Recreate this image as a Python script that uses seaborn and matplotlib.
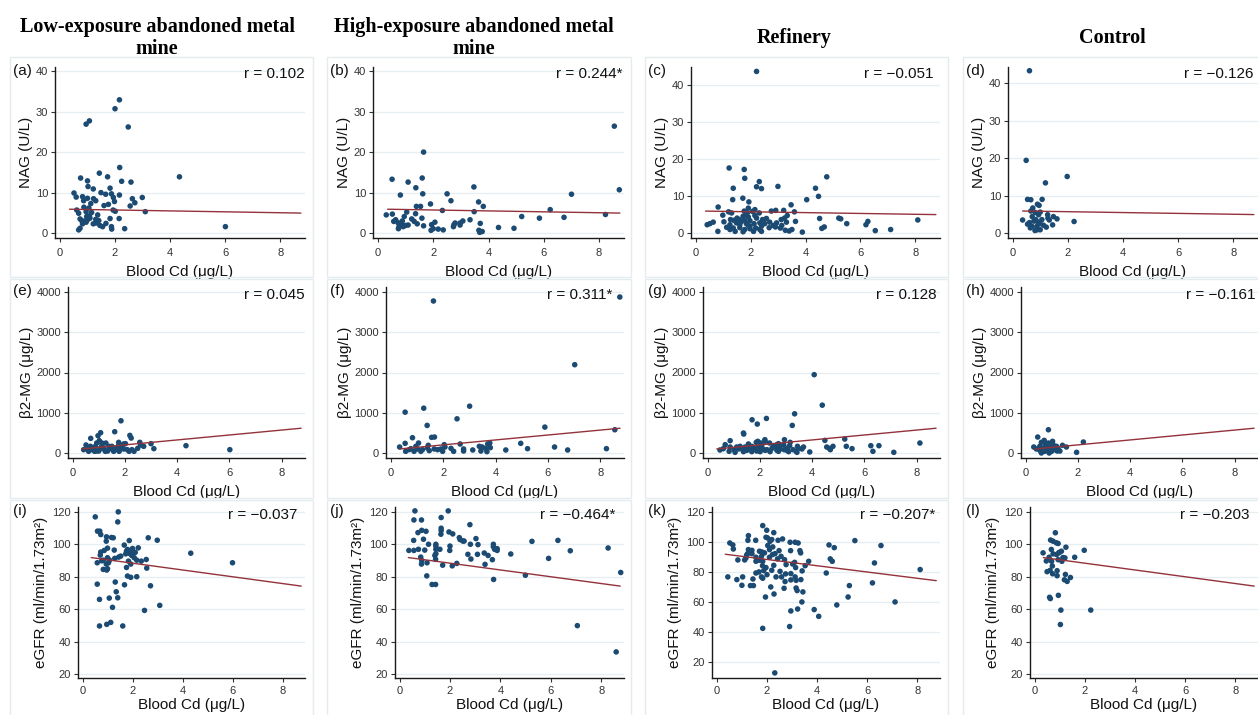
import matplotlib
matplotlib.use("Agg")
import matplotlib.pyplot as plt
from matplotlib.patches import Rectangle
import pandas as pd
import seaborn as sns

# ---- data: (blood Cd, outcome) pairs per panel ----
low_nag = [(1.07, 27.7), (0.95, 26.9), (2.0, 30.7), (2.16, 32.9), (2.48, 26.2), (2.17, 16.2), (1.43, 14.8),
           (0.75, 13.6), (1.73, 13.9), (4.34, 13.9), (1.0, 12.9), (2.24, 12.8), (2.58, 12.6), (1.02, 11.5),
           (1.82, 11.1), (1.21, 10.9), (0.51, 9.9), (1.49, 10.0), (1.66, 9.6), (1.87, 9.7), (2.16, 9.4),
           (0.82, 9.0), (0.59, 8.9), (1.0, 8.6), (1.22, 8.5), (1.94, 8.8), (2.63, 8.5), (2.99, 8.8), (0.86, 8.0),
           (1.3, 8.0), (1.98, 7.8), (2.72, 7.5), (1.76, 7.1), (1.6, 6.8), (2.55, 6.7), (1.12, 7.3), (0.87, 6.4),
           (1.05, 6.2), (0.61, 5.7), (1.93, 5.7), (3.1, 5.3), (0.95, 5.3), (0.68, 4.9), (1.15, 5.1), (2.01, 5.4),
           (0.97, 4.1), (0.73, 3.5), (1.09, 3.7), (1.3, 3.4), (1.82, 3.6), (2.15, 3.6), (0.91, 3.0), (1.0, 3.3),
           (1.41, 3.1), (0.82, 2.3), (1.21, 2.3), (1.45, 1.9), (1.67, 2.4), (1.87, 1.6), (1.88, 1.0), (2.35, 1.1),
           (0.73, 1.2), (0.68, 0.8), (1.31, 2.5), (6.01, 1.6), (0.95, 2.7), (1.07, 4.3), (1.55, 1.6), (1.37, 4.5),
           (0.79, 3.1)]
high_nag = [(8.55, 26.4), (8.73, 10.7), (7.0, 9.6), (6.23, 5.8), (6.73, 3.9), (5.84, 3.7), (5.2, 4.1), (8.23, 4.6),
            (4.92, 1.2), (4.36, 1.4), (1.65, 20.0), (1.6, 13.6), (0.51, 13.3), (1.09, 12.6), (1.37, 11.2),
            (3.47, 11.4), (1.62, 9.7), (2.5, 9.7), (0.81, 9.4), (2.64, 8.0), (3.64, 7.7), (1.9, 7.2), (3.81, 6.6),
            (1.39, 6.6), (1.54, 6.6), (1.04, 5.2), (3.48, 5.3), (2.33, 5.6), (0.3, 4.5), (0.52, 4.7), (1.36, 4.8),
            (0.95, 4.1), (1.59, 3.7), (1.22, 3.5), (3.33, 3.3), (0.57, 2.9), (0.72, 2.6), (1.31, 2.9), (2.06, 2.7),
            (3.07, 3.0), (0.85, 2.3), (1.0, 1.9), (2.79, 2.5), (2.97, 2.5), (3.7, 2.4), (1.42, 2.3), (1.65, 1.8),
            (0.76, 1.6), (1.94, 2.1), (2.73, 1.6), (0.74, 1.1), (0.91, 1.6), (1.09, 2.0), (2.0, 1.1), (2.18, 1.0),
            (2.36, 0.8), (1.92, 0.7), (3.65, 0.7), (3.77, 0.4), (3.68, 0.2), (0.88, 3.0), (0.64, 3.3), (2.97, 2.0),
            (2.75, 2.1)]
ref_nag = [(2.21, 43.8), (1.21, 17.6), (1.76, 17.2), (1.78, 14.8), (4.77, 15.2), (1.36, 12.1), (2.31, 13.9),
           (2.21, 12.5), (2.39, 12.0), (2.99, 12.6), (4.36, 12.1), (4.47, 9.9), (1.34, 9.0), (1.71, 9.4), (4.04, 9.0),
           (1.93, 8.4), (0.81, 7.0), (3.47, 7.6), (1.91, 6.7), (2.75, 5.9), (2.91, 6.1), (3.2, 6.1), (1.19, 5.7),
           (1.76, 5.9), (2.06, 5.8), (3.59, 5.7), (1.3, 5.4), (2.31, 5.4), (1.82, 4.9), (3.33, 4.7), (0.98, 4.8),
           (2.57, 3.9), (4.51, 3.9), (5.21, 4.0), (5.28, 3.8), (2.43, 3.6), (1.38, 3.4), (1.58, 3.6), (1.66, 3.1),
           (1.97, 3.3), (3.11, 3.6), (3.23, 4.0), (3.63, 3.1), (6.27, 3.1), (8.09, 3.5), (0.63, 2.9), (0.51, 2.5),
           (0.41, 2.2), (1.02, 3.0), (1.24, 2.2), (1.48, 2.7), (1.84, 2.5), (2.12, 2.5), (2.33, 2.7), (2.51, 2.5),
           (2.69, 2.9), (2.94, 2.7), (3.3, 2.9), (5.5, 2.5), (6.2, 2.2), (1.12, 1.5), (1.36, 1.3), (1.6, 1.4),
           (1.78, 0.9), (1.97, 1.8), (2.18, 1.3), (2.33, 0.9), (2.67, 1.4), (2.9, 1.6), (3.08, 1.3), (3.26, 0.7),
           (3.4, 0.5), (3.5, 0.9), (4.59, 1.2), (4.68, 1.6), (0.8, 0.4), (1.43, 0.4), (1.72, 0.3), (2.1, 0.4),
           (3.88, 0.2), (6.54, 0.6), (7.1, 0.9), (1.5, 4.0), (1.72, 4.5), (1.91, 4.3), (2.15, 4.7), (1.26, 3.6),
           (2.21, 4.0), (1.78, 3.3), (1.6, 2.2), (1.91, 2.0), (2.39, 1.8), (2.82, 2.0), (3.13, 2.0), (1.24, 0.9),
           (1.97, 1.1), (2.39, 0.4), (1.87, 5.4), (2.15, 6.3)]
ctl_nag = [(0.6, 43.3), (0.48, 19.4), (1.18, 13.4), (1.97, 15.1), (0.53, 9.0), (0.65, 8.9), (1.06, 9.0), (0.89, 7.7),
           (0.95, 7.4), (0.65, 5.9), (0.81, 5.5), (0.99, 5.6), (1.26, 4.9), (0.35, 3.5), (1.6, 3.8), (2.22, 3.1),
           (1.27, 4.0), (1.32, 3.5), (0.7, 4.4), (0.6, 2.8), (0.76, 3.2), (0.91, 2.9), (0.99, 2.5), (1.11, 2.1),
           (1.21, 1.6), (1.44, 2.2), (0.8, 0.7), (0.89, 0.9), (0.69, 1.8), (0.83, 3.6), (1.05, 3.6), (0.93, 4.9),
           (0.72, 6.7), (0.87, 1.8), (0.63, 1.4), (0.99, 0.9), (0.53, 2.4), (1.47, 4.4)]

low_b2m = [(1.85, 800), (1.61, 528), (1.07, 503), (0.97, 429), (0.69, 363), (2.19, 437), (2.24, 371), (1.02, 305),
           (0.92, 247), (1.27, 247), (0.51, 198), (2.02, 231), (2.57, 264), (2.6, 198), (3.0, 231), (2.72, 165),
           (4.34, 181), (0.87, 165), (1.39, 165), (1.74, 165), (1.88, 181), (3.11, 107), (6.02, 82), (0.58, 99),
           (0.74, 82), (1.06, 115), (1.19, 99), (1.52, 99), (1.67, 115), (1.95, 99), (2.49, 115), (0.61, 41),
           (0.84, 41), (1.0, 49), (1.34, 49), (1.57, 41), (1.78, 41), (2.16, 41), (2.35, 41), (0.68, 165),
           (1.12, 181), (1.5, 165), (1.83, 115), (0.81, 115), (0.93, 49), (1.25, 41), (1.63, 82), (2.09, 82),
           (2.27, 82), (0.42, 82), (1.39, 99), (1.12, 247), (1.76, 264), (1.95, 223)]
high_b2m = [(1.63, 3777), (8.74, 3876), (7.02, 2194), (3.01, 1163), (1.26, 1113), (0.55, 1014), (2.53, 849),
            (1.39, 685), (5.88, 643), (8.55, 577), (1.67, 396), (1.56, 388), (0.83, 379), (2.65, 223), (0.55, 239),
            (1.06, 247), (2.04, 206), (3.78, 247), (4.96, 239), (0.34, 148), (1.43, 190), (3.38, 165), (3.49, 148),
            (3.8, 132), (6.25, 148), (5.22, 107), (8.23, 107), (0.77, 107), (1.02, 99), (1.21, 82), (1.66, 99),
            (1.91, 99), (2.3, 115), (2.78, 99), (3.13, 74), (3.62, 115), (4.39, 74), (6.75, 74), (0.57, 41),
            (0.89, 41), (1.15, 41), (1.47, 58), (1.98, 41), (2.4, 41), (2.78, 49), (3.44, 49), (3.67, 33),
            (1.79, 82), (0.7, 82), (1.4, 124), (2.07, 148), (3.7, 223), (0.96, 165)]
ref_b2m = [(4.08, 1946), (4.39, 1188), (3.33, 973), (1.7, 825), (2.25, 858), (1.9, 718), (3.24, 685), (1.37, 495),
           (1.38, 470), (0.86, 305), (2.19, 330), (2.94, 330), (4.49, 313), (5.25, 346), (8.13, 247), (0.67, 206),
           (1.56, 223), (1.86, 264), (2.04, 247), (2.37, 247), (2.71, 231), (3.16, 264), (5.31, 165), (6.25, 181),
           (6.56, 181), (4.8, 165), (4.56, 148), (4.7, 82), (4.66, 115), (5.53, 107), (6.33, 41), (7.13, 16),
           (3.91, 25), (0.47, 74), (0.6, 107), (0.82, 41), (1.01, 82), (1.18, 99), (1.24, 165), (1.43, 148),
           (1.63, 82), (1.78, 115), (1.95, 148), (2.11, 99), (2.27, 82), (2.46, 115), (2.59, 148), (2.78, 99),
           (2.93, 82), (3.06, 124), (3.27, 82), (3.39, 41), (3.48, 115), (3.61, 99), (3.67, 148), (1.05, 16),
           (1.37, 33), (1.69, 33), (2.01, 33), (2.39, 33), (2.71, 41), (3.1, 33), (3.42, 16), (1.5, 66),
           (1.88, 49), (2.2, 66), (2.65, 66), (3.03, 66), (1.69, 165), (2.07, 181), (2.52, 181), (2.91, 206),
           (3.14, 181), (1.31, 99), (1.56, 115), (0.86, 148), (1.11, 148), (1.92, 289), (2.2, 289), (2.65, 206),
           (2.75, 165), (3.44, 165)]
ctl_b2m = [(0.87, 577), (0.46, 396), (0.71, 313), (2.21, 272), (0.87, 247), (0.6, 264), (0.31, 148), (1.41, 190),
           (1.56, 148), (1.05, 206), (1.18, 165), (0.95, 140), (0.54, 165), (0.67, 124), (0.79, 165), (1.12, 82),
           (1.24, 107), (1.31, 49), (0.99, 41), (0.73, 41), (0.6, 0), (1.95, 16), (0.41, 99), (0.86, 82),
           (1.08, 124), (0.54, 66), (1.21, 49), (0.77, 206), (1.03, 289), (0.64, 82), (0.9, 0)]

low_egfr = [(1.43, 120.0), (0.51, 116.9), (1.41, 113.8), (0.6, 108.1), (0.69, 108.1), (0.73, 106.0), (0.96, 104.6),
            (1.16, 104.2), (1.23, 104.0), (2.63, 104.0), (2.99, 102.5), (1.87, 102.3), (0.95, 101.9), (1.67, 99.5),
            (2.23, 97.8), (1.0, 97.6), (0.87, 96.2), (1.27, 96.4), (1.76, 95.8), (1.96, 96.2), (0.73, 95.2),
            (2.11, 95.0), (4.33, 94.5), (1.89, 94.3), (0.71, 93.3), (1.97, 93.1), (1.45, 92.1), (1.0, 91.7),
            (1.29, 91.3), (2.07, 91.7), (2.55, 90.6), (0.83, 90.2), (0.77, 89.8), (1.08, 90.2), (1.84, 89.6),
            (2.17, 90.2), (2.35, 89.6), (0.59, 88.6), (6.0, 88.6), (0.95, 87.8), (1.04, 88.6), (1.93, 87.8),
            (1.76, 85.7), (2.57, 85.3), (0.83, 84.5), (0.97, 84.1), (1.0, 84.9), (1.8, 80.4), (1.93, 79.6),
            (2.17, 80.0), (1.31, 76.7), (0.59, 75.4), (1.68, 75.0), (2.72, 74.4), (1.35, 70.7), (1.07, 66.8),
            (0.68, 66.0), (1.41, 67.0), (1.2, 61.1), (3.09, 62.3), (2.48, 59.2), (0.68, 49.6), (0.97, 50.6),
            (1.13, 51.8), (1.61, 49.6), (1.8, 96.8), (2.0, 97.4), (1.53, 92.7), (1.73, 94.1)]
high_egfr = [(0.61, 120.6), (1.93, 120.6), (0.57, 115.0), (0.87, 115.0), (1.65, 116.5), (2.79, 112.1), (1.65, 109.9),
             (1.65, 108.4), (0.88, 108.6), (1.05, 108.0), (0.73, 107.2), (1.96, 107.6), (2.11, 106.4), (1.64, 106.2),
             (2.37, 104.1), (2.4, 102.9), (2.51, 102.0), (2.56, 102.0), (3.03, 103.5), (0.56, 102.4), (0.95, 103.1),
             (5.25, 101.8), (6.28, 102.4), (1.15, 100.0), (1.44, 100.0), (1.44, 98.9), (2.81, 100.0), (3.11, 99.8),
             (3.72, 100.0), (3.72, 98.5), (2.0, 98.9), (0.75, 96.9), (0.37, 96.2), (0.57, 96.2), (1.0, 96.4),
             (1.6, 96.9), (1.99, 96.2), (3.77, 96.9), (3.87, 96.2), (6.77, 96.0), (8.27, 97.7), (2.71, 93.8),
             (3.09, 93.8), (3.51, 93.1), (4.41, 94.0), (1.44, 94.2), (1.4, 93.1), (0.84, 92.1), (3.36, 94.6),
             (1.43, 90.7), (2.83, 90.9), (3.68, 90.5), (5.91, 91.3), (0.88, 90.0), (1.09, 88.6), (2.27, 88.2),
             (0.87, 87.8), (3.39, 87.6), (1.71, 87.1), (2.09, 86.7), (1.08, 80.5), (4.99, 80.9), (3.73, 78.3),
             (8.77, 82.6), (1.29, 75.2), (1.43, 75.2), (7.05, 49.8), (8.59, 33.6), (3.87, 97.3), (1.44, 96.9)]
ref_egfr = [(1.84, 110.9), (2.0, 107.8), (2.28, 106.2), (1.27, 104.2), (1.25, 101.1), (1.56, 101.1), (1.97, 103.1),
            (2.03, 102.7), (2.2, 101.6), (2.45, 101.1), (2.63, 102.0), (2.13, 100.4), (2.93, 99.8), (3.13, 99.8),
            (3.25, 99.3), (5.51, 100.9), (0.53, 99.3), (0.65, 98.0), (0.67, 95.3), (4.48, 98.0), (4.69, 96.2),
            (6.55, 97.6), (2.24, 96.7), (2.04, 97.6), (2.49, 94.2), (1.27, 94.9), (1.32, 93.8), (1.41, 94.4),
            (1.71, 93.8), (1.81, 93.3), (1.91, 92.7), (1.2, 91.3), (1.41, 92.2), (2.23, 91.6), (2.33, 92.2),
            (2.95, 94.2), (3.32, 94.2), (3.35, 92.7), (1.17, 89.3), (1.57, 89.8), (1.79, 90.4), (2.11, 89.8),
            (2.43, 88.7), (2.71, 88.2), (0.85, 88.0), (1.12, 88.0), (1.71, 87.8), (1.84, 87.1), (3.11, 86.4),
            (3.03, 85.3), (3.67, 87.1), (4.61, 87.1), (4.53, 88.7), (6.29, 86.0), (1.83, 84.2), (1.97, 82.9),
            (2.28, 84.4), (3.53, 84.2), (3.15, 82.9), (1.88, 80.9), (2.2, 81.1), (3.41, 80.7), (1.57, 79.3),
            (1.69, 80.0), (2.75, 78.7), (2.96, 78.9), (4.37, 79.3), (8.11, 81.6), (2.37, 76.7), (0.45, 76.7),
            (1.04, 76.7), (1.79, 76.7), (2.59, 76.7), (3.13, 76.7), (1.45, 75.3), (0.81, 74.9), (1.84, 75.8),
            (2.96, 74.7), (3.36, 74.9), (2.73, 73.6), (3.17, 74.4), (6.21, 72.7), (1.01, 71.1), (1.35, 70.9),
            (1.47, 70.9), (5.29, 70.9), (3.17, 69.3), (2.16, 70.0), (2.69, 69.1), (3.21, 67.6), (3.44, 66.7),
            (1.95, 63.3), (2.29, 65.3), (5.24, 63.3), (3.4, 60.0), (7.11, 60.0), (4.79, 58.0), (2.96, 54.0),
            (3.23, 55.3), (3.89, 54.9), (4.07, 50.4), (2.91, 43.6), (1.84, 42.4), (2.32, 12.7), (1.24, 92.2),
            (1.57, 87.1), (2.11, 94.9), (2.57, 90.4), (2.77, 84.9), (2.01, 78.2), (2.53, 80.4)]
ctl_egfr = [(0.83, 107.1), (0.64, 102.6), (0.74, 101.9), (0.87, 100.9), (0.94, 100.5), (0.34, 94.7), (0.67, 96.8),
            (1.07, 95.7), (0.96, 94.7), (0.88, 93.7), (0.74, 94.1), (1.25, 98.2), (1.98, 96.3), (1.13, 91.8),
            (1.21, 91.6), (1.6, 92.0), (0.58, 92.0), (0.94, 90.5), (0.47, 89.7), (0.68, 89.5), (0.71, 86.6),
            (0.5, 83.1), (0.62, 83.9), (0.9, 83.7), (0.72, 81.8), (1.23, 81.4), (0.9, 80.6), (1.43, 79.5),
            (1.19, 78.1), (1.3, 77.1), (0.6, 67.3), (0.63, 66.5), (0.95, 68.5), (1.05, 59.4), (2.24, 59.4),
            (1.03, 50.5), (1.0, 95.1), (1.09, 89.5)]

# fitted lines (end points), identical across the four groups in each row
fit_x = [0.35, 8.75]
nag_fit = [5.9, 4.95]
b2m_fit = [100, 615]
egfr_fit = [91.8, 74.2]

group_titles = ["Low-exposure abandoned metal\nmine", "High-exposure abandoned metal\nmine",
                "Refinery", "Control"]
row_labels = ["NAG (U/L)", "β2-MG (μg/L)", "eGFR (ml/min/1.73m²)"]
r_texts = [["r = 0.102", "r = 0.244*", "r = −0.051", "r = −0.126"],
           ["r = 0.045", "r = 0.311*", "r = 0.128", "r = −0.161"],
           ["r = −0.037", "r = −0.464*", "r = −0.207*", "r = −0.203"]]
letters = "abcdefghijkl"

data = [[low_nag, high_nag, ref_nag, ctl_nag],
        [low_b2m, high_b2m, ref_b2m, ctl_b2m],
        [low_egfr, high_egfr, ref_egfr, ctl_egfr]]
fits = [nag_fit, b2m_fit, egfr_fit]

# ---- layout in pixels ----
W, H = 1258, 715
NAVY = "#1b4a72"
MAROON = "#93323a"

sns.set_theme(style="white")
plt.rcParams["font.family"] = ["Liberation Sans", "DejaVu Sans"]

fig = plt.figure(figsize=(W / 100, H / 100), dpi=100)


def fig_rect(l, t, r, b):
    return [l / W, 1 - b / H, (r - l) / W, (b - t) / H]


row_tb = [(67, 238), (287, 458), (507, 678)]
left_px = [[55, 373, 691, 1008], [68, 386, 703, 1021], [78, 395, 712, 1030]]
right_px = [305, 624, 940, 1258]
ylims = [[(-1.2, 41), (-1.2, 41), (-1.4, 45), (-1.3, 44.3)],
         [(-125, 4125)] * 4,
         [(17.5, 123), (17.5, 123), (9.3, 123.3), (17.5, 123)]]
yticks = [[0, 10, 20, 30, 40], [0, 1000, 2000, 3000, 4000], [20, 40, 60, 80, 100, 120]]
r_right = [[305, 623, 934, 1253], [305, 612, 937, 1256], [297, 615, 935, 1250]]
r_y = [74, 295, 515]
box_x = [(10, 313), (327, 631), (645, 948), (963, 1266)]
box_y = [(57, 277), (279, 498), (500, 722)]
title_x = [157, 474, 794, 1112]
xlabel_pad = [5, 5, 1]

# panel frames
for bx in box_x:
    for by in box_y:
        fig.add_artist(Rectangle((bx[0] / W, 1 - by[1] / H), (bx[1] - bx[0]) / W, (by[1] - by[0]) / H,
                                 transform=fig.transFigure, fill=False, edgecolor="#e4ecef", linewidth=1.0))

for c, title in enumerate(group_titles):
    fig.text(title_x[c] / W, 1 - 38 / H, title, ha="center", va="center", fontsize=14.5,
             fontweight="bold", family="Liberation Serif", linespacing=1.1, color="#000000")

for r in range(3):
    top, bot = row_tb[r]
    for c in range(4):
        ax = fig.add_axes(fig_rect(left_px[r][c], top, right_px[c], bot))
        df = pd.DataFrame(data[r][c], columns=["cd", "val"])
        sns.scatterplot(data=df, x="cd", y="val", ax=ax, s=16, color=NAVY, edgecolor="none",
                        linewidth=0, zorder=2)
        sns.lineplot(x=fit_x, y=fits[r], ax=ax, color=MAROON, linewidth=1.0, zorder=3)

        ax.set_xlim(-0.18, 8.9)
        ax.set_ylim(*ylims[r][c])
        ax.set_xticks([0, 2, 4, 6, 8])
        ax.set_yticks(yticks[r])
        ax.yaxis.grid(True, color="#e6eef1", linewidth=0.9)
        ax.xaxis.grid(False)
        ax.set_axisbelow(True)
        for s in ["top", "right"]:
            ax.spines[s].set_visible(False)
        for s in ["left", "bottom"]:
            ax.spines[s].set_color("#1a1a1a")
            ax.spines[s].set_linewidth(1.0)
        ax.tick_params(axis="both", direction="out", length=3, width=0.8, color="#333333",
                       labelsize=8, labelcolor="#333333", pad=2, left=True, bottom=True)
        ax.tick_params(axis="x", pad=4 if r < 2 else 3)
        ax.set_xlabel("Blood Cd (μg/L)", fontsize=11, color="#111111", labelpad=xlabel_pad[r])
        ax.set_ylabel(row_labels[r], fontsize=11, color="#111111", labelpad=2 if r < 2 else 3)
        ax.set_facecolor("none")

        fig.text((box_x[c][0] + 3) / W, 1 - (top + 4) / H, f"({letters[r * 4 + c]})", ha="left",
                 va="center", fontsize=11, color="#111111")
        fig.text(r_right[r][c] / W, 1 - r_y[r] / H, r_texts[r][c], ha="right", va="center",
                 fontsize=11, color="#111111")

fig.savefig("out.png", dpi=100)
plt.close(fig)
